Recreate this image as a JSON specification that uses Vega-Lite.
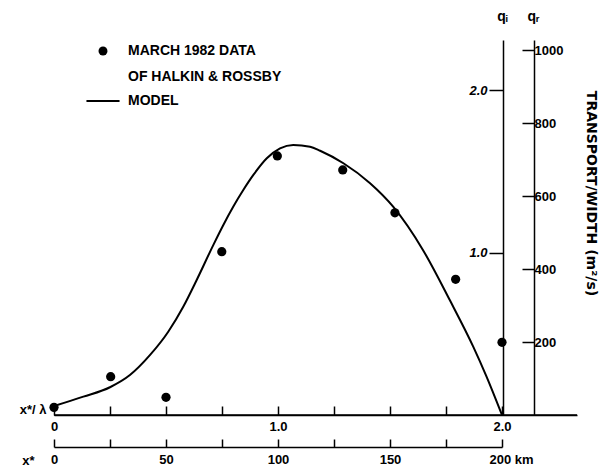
{
  "$schema": "https://vega.github.io/schema/vega-lite/v6.json",
  "width": 523,
  "height": 375,
  "autosize": {"type": "none"},
  "padding": {"left": 54, "top": 40, "right": 32, "bottom": 52},
  "background": "white",
  "config": {
    "view": {"stroke": null},
    "axis": {
      "grid": false,
      "labelFont": "Liberation Sans",
      "labelFontWeight": "bold",
      "labelFontSize": 13,
      "labelColor": "black",
      "titleFont": "Liberation Sans",
      "titleFontWeight": "bold",
      "titleFontSize": 13,
      "titleColor": "black",
      "domainColor": "black",
      "domainWidth": 1.5,
      "tickColor": "black",
      "tickWidth": 1.5,
      "labelFlush": false,
      "labelOverlap": false
    }
  },
  "datasets": {
    "model": [
      {"x": 0, "q": 0.055},
      {"x": 0.131, "q": 0.113},
      {"x": 0.25, "q": 0.171},
      {"x": 0.339, "q": 0.246},
      {"x": 0.429, "q": 0.37},
      {"x": 0.51, "q": 0.513},
      {"x": 0.577, "q": 0.667},
      {"x": 0.637, "q": 0.832},
      {"x": 0.711, "q": 1.047},
      {"x": 0.756, "q": 1.171},
      {"x": 0.8, "q": 1.283},
      {"x": 0.845, "q": 1.386},
      {"x": 0.89, "q": 1.479},
      {"x": 0.95, "q": 1.582},
      {"x": 1.009, "q": 1.643},
      {"x": 1.068, "q": 1.664},
      {"x": 1.143, "q": 1.653},
      {"x": 1.188, "q": 1.628},
      {"x": 1.292, "q": 1.551},
      {"x": 1.411, "q": 1.428},
      {"x": 1.515, "q": 1.282},
      {"x": 1.647, "q": 1.017},
      {"x": 1.768, "q": 0.705},
      {"x": 1.872, "q": 0.42},
      {"x": 1.93, "q": 0.24},
      {"x": 2.0, "q": 0.0}
    ],
    "obs": [
      {"x": 0, "q": 0.047, "series": "MARCH 1982 DATA"},
      {"x": 0.253, "q": 0.236, "series": "MARCH 1982 DATA"},
      {"x": 0.5, "q": 0.109, "series": "MARCH 1982 DATA"},
      {"x": 0.749, "q": 1.006, "series": "MARCH 1982 DATA"},
      {"x": 0.997, "q": 1.596, "series": "MARCH 1982 DATA"},
      {"x": 1.289, "q": 1.51, "series": "MARCH 1982 DATA"},
      {"x": 1.522, "q": 1.246, "series": "MARCH 1982 DATA"},
      {"x": 1.793, "q": 0.836, "series": "MARCH 1982 DATA"},
      {"x": 2.0, "q": 0.448, "series": "MARCH 1982 DATA"}
    ]
  },
  "layer": [
    {
      "data": {"name": "model"},
      "mark": {"type": "line", "color": "black", "strokeWidth": 2, "interpolate": "monotone"},
      "encoding": {
        "x": {
          "field": "x", "type": "quantitative",
          "scale": {"domain": [0, 2.3348], "nice": false, "zero": false},
          "axis": {
            "orient": "bottom",
            "values": [0, 0.25, 0.5, 0.75, 1, 1.25, 1.5, 1.75, 2],
            "labelExpr": "datum.value == 0 ? '0' : (datum.value % 1 == 0 ? format(datum.value, '.1f') : '')",
            "tickSize": -9,
            "labelPadding": 14,
            "title": "x*/ λ",
            "titleAngle": 0,
            "titleX": -8,
            "titleY": -6,
            "titleAlign": "right",
            "titleBaseline": "middle"
          }
        },
        "y": {
          "field": "q", "type": "quantitative",
          "scale": {"domain": [0, 2.3105], "nice": false},
          "axis": {
            "orient": "left",
            "offset": -449,
            "values": [1, 2],
            "format": ".1f",
            "tickSize": 14,
            "labelPadding": 2,
            "labelFontStyle": "italic",
            "title": "qᵢ",
            "titleFontSize": 14,
            "titleAngle": 0,
            "titleX": -1,
            "titleY": -24,
            "titleAlign": "center",
            "titleBaseline": "middle"
          }
        }
      }
    },
    {
      "data": {"name": "obs"},
      "mark": {"type": "point", "filled": true, "color": "black", "size": 85, "opacity": 1},
      "encoding": {
        "x": {"field": "x", "type": "quantitative", "scale": {"domain": [0, 2.3348], "nice": false, "zero": false}, "axis": null},
        "y": {"field": "q", "type": "quantitative", "scale": {"domain": [0, 2.3105], "nice": false}, "axis": null},
        "shape": {
          "field": "series", "type": "nominal",
          "scale": {"domain": ["MARCH 1982 DATA", "OF HALKIN & ROSSBY", "MODEL"], "range": ["circle", "M0,0", "M-3.7,-0.22H3.7V0.22H-3.7Z"]},
          "legend": {
            "orient": "none",
            "legendX": 42,
            "legendY": 4,
            "title": null,
            "padding": 0,
            "labelFont": "Liberation Sans",
            "labelFontWeight": "bold",
            "labelFontSize": 14,
            "labelColor": "black",
            "symbolSize": 80,
            "rowPadding": 10.5,
            "labelOffset": 18,
            "encode": {"symbols": {"update": {"fill": {"value": "black"}, "opacity": {"value": 1}, "strokeWidth": {"value": 0}}}}
          }
        }
      }
    },
    {
      "data": {"values": [{}]},
      "mark": {"type": "rule", "color": "black", "strokeWidth": 1.5},
      "encoding": {
        "y": {
          "datum": 0, "type": "quantitative",
          "scale": {"domain": [0, 1027.4], "nice": false},
          "axis": {
            "orient": "right",
            "offset": -43,
            "values": [200, 400, 600, 800, 1000],
            "format": "d",
            "tickSize": -12,
            "labelPadding": 12,
            "labelAlign": "left",
            "title": "qᵣ",
            "titleFontSize": 14,
            "titleAngle": 0,
            "titleX": -1,
            "titleY": -24,
            "titleAlign": "center",
            "titleBaseline": "middle"
          }
        }
      }
    },
    {
      "data": {"values": [{}]},
      "mark": {"type": "rule", "opacity": 0},
      "encoding": {
        "x": {
          "datum": 0, "type": "quantitative",
          "scale": {"domain": [0, 233.48], "nice": false},
          "axis": {
            "orient": "bottom",
            "offset": 32,
            "values": [0, 25, 50, 75, 100, 125, 150, 175, 200],
            "labelExpr": "datum.value == 200 ? '200 km' : (datum.value % 50 == 0 ? datum.value : '')",
            "labelAlign": {"condition": {"test": "datum.value == 200", "value": "left"}, "value": "center"},
            "labelOffset": {"condition": {"test": "datum.value == 200", "value": -13}, "value": 0},
            "domainDash": [448, 300],
            "tickSize": -8,
            "labelPadding": 14,
            "title": "x*",
            "titleAngle": 0,
            "titleX": -20,
            "titleY": 13,
            "titleAlign": "right",
            "titleBaseline": "middle"
          }
        }
      }
    },
    {
      "data": {"values": [{}]},
      "mark": {"type": "rule", "opacity": 0},
      "encoding": {
        "y": {
          "datum": 0, "type": "quantitative",
          "scale": {"domain": [0, 1], "nice": false},
          "axis": {
            "orient": "right",
            "domain": false,
            "ticks": false,
            "labels": false,
            "title": "TRANSPORT/WIDTH (m²/s)",
            "titleFont": "DejaVu Sans",
            "titleFontSize": 14,
            "titleAngle": 90,
            "titleX": 13,
            "titleY": 153,
            "titleAlign": "center",
            "titleBaseline": "middle"
          }
        }
      }
    }
  ],
  "resolve": {
    "scale": {"x": "independent", "y": "independent"},
    "axis": {"x": "independent", "y": "independent"}
  }
}
